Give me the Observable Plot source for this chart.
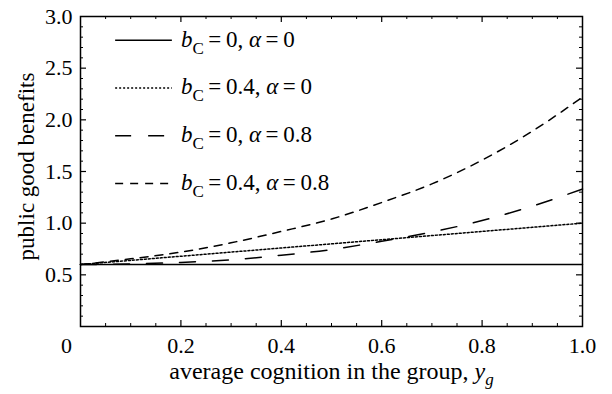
<!DOCTYPE html>
<html>
<head>
<meta charset="utf-8">
<script src="https://cdn.jsdelivr.net/npm/d3@7"></script>
<script src="https://cdn.jsdelivr.net/npm/@observablehq/plot@0.6"></script>
<style>
  html, body { margin: 0; padding: 0; background: white; }
</style>
</head>
<body>
<div id="chart"></div>
<script>
// ---- data ----
const xValues      = [0, 0.1, 0.2, 0.3, 0.4, 0.5, 0.6, 0.7, 0.8, 0.9, 1.0];
const seriesSolid  = [0.6, 0.6, 0.6, 0.6, 0.6, 0.6, 0.6, 0.6, 0.6, 0.6, 0.6];          // bC=0,   α=0
const seriesDotted = [0.6, 0.64, 0.68, 0.72, 0.76, 0.80, 0.84, 0.88, 0.92, 0.96, 1.0];  // bC=0.4, α=0
const seriesLong   = [0.6, 0.605, 0.62, 0.645, 0.69, 0.745, 0.825, 0.915, 1.025, 1.165, 1.33]; // bC=0, α=0.8
const seriesShort  = [0.6, 0.655, 0.72, 0.81, 0.92, 1.04, 1.20, 1.38, 1.61, 1.89, 2.22];     // bC=0.4, α=0.8

const legendBC    = [0, 0.4, 0, 0.4];
const legendAlpha = [0, 0, 0.8, 0.8];

const xTickLabels = [0.2, 0.4, 0.6, 0.8, 1.0];
const xZeroLabel  = [0];
const yTickLabels = [0.5, 1.0, 1.5, 2.0, 2.5, 3.0];
const xMajorTicks = [0.2, 0.4, 0.6, 0.8];
const xMinorTicks = d3.range(1, 20).map(i => i * 0.05).filter(v => Math.abs(v * 5 - Math.round(v * 5)) > 1e-6);
const yMajorTicks = [0.5, 1.0, 1.5, 2.0, 2.5];
const yMinorTicks = d3.range(1, 30).map(i => i / 10).filter(v => Math.abs(v * 2 - Math.round(v * 2)) > 1e-6);

const xLabel = "average cognition in the group, y_g";
const yLabel = "public good benefits";

// ---- layout ----
const W = 612, H = 394;
const mL = 80, mR = 30, mT = 16, mB = 68;
const FW = W - mL - mR, FH = H - mT - mB;
const FONT = "Liberation Serif";

const styles = [
  {data: seriesSolid,  dash: null},
  {data: seriesDotted, dash: "2,2"},
  {data: seriesLong,   dash: "16,17"},
  {data: seriesShort,  dash: "8,7"}
];
const lineMarks = styles.map(s => Plot.line(xValues.map((x, i) => ({x, y: s.data[i]})), {
  x: "x", y: "y", stroke: "black", strokeWidth: 1.5, curve: "monotone-x",
  strokeDasharray: s.dash
}));

// legend (positioned inside the frame, top-left)
const legendRows = legendBC.map((b, i) => ({b, a: legendAlpha[i], y: 2.77 - 0.462 * i}));
const legendLines = legendRows.map((r, i) => Plot.ruleY([r], {
  y: "y", x1: () => 0.07, x2: () => 0.183, stroke: "black", strokeWidth: 1.5,
  strokeDasharray: styles[i].dash
}));
const legendText = Plot.text(legendRows, {
  x: () => 0.2, y: "y", text: r => `b_C=${r.b}, α=${r.a}`,
  textAnchor: "start", fontSize: 23, dy: -1
});

const tickLen = 6, minorLen = 3;

const svg = Plot.plot({
  width: W, height: H,
  marginLeft: mL, marginRight: mR, marginTop: mT, marginBottom: mB,
  style: {fontFamily: FONT, fontSize: "22px", background: "white", color: "black"},
  x: {domain: [0, 1]},
  y: {domain: [0, 3]},
  marks: [
    // tick labels
    Plot.axisX(xTickLabels, {tickSize: 0, tickPadding: 11, fontSize: 22, label: null, tickFormat: d3.format(".1f")}),
    Plot.axisX(xZeroLabel, {tickSize: 0, tickPadding: 11, fontSize: 22, label: null, tickFormat: d => "0", dx: -14}),
    Plot.axisY(yTickLabels, {tickSize: 0, tickPadding: 8, fontSize: 22, label: null, tickFormat: d3.format(".1f")}),
    // inward ticks on all four sides
    Plot.tickX(xMajorTicks, {x: d => d, insetTop: FH - tickLen, strokeWidth: 1.2}),
    Plot.tickX(xMinorTicks, {x: d => d, insetTop: FH - minorLen, strokeWidth: 1}),
    Plot.tickX(xMajorTicks, {x: d => d, insetBottom: FH - tickLen, strokeWidth: 1.2}),
    Plot.tickX(xMinorTicks, {x: d => d, insetBottom: FH - minorLen, strokeWidth: 1}),
    Plot.tickY(yMajorTicks, {y: d => d, insetRight: FW - tickLen, strokeWidth: 1.2}),
    Plot.tickY(yMinorTicks, {y: d => d, insetRight: FW - minorLen, strokeWidth: 1}),
    Plot.tickY(yMajorTicks, {y: d => d, insetLeft: FW - tickLen, strokeWidth: 1.2}),
    Plot.tickY(yMinorTicks, {y: d => d, insetLeft: FW - minorLen, strokeWidth: 1}),
    // data
    ...lineMarks,
    // legend
    ...legendLines,
    legendText,
    // axis titles
    Plot.text([xLabel], {frameAnchor: "bottom", lineAnchor: "bottom", textAnchor: "middle", dy: 52, fontSize: 24}),
    Plot.text([yLabel], {frameAnchor: "left", rotate: -90, textAnchor: "middle", lineAnchor: "middle", dx: -54, dy: -5, fontSize: 23}),
    Plot.frame({stroke: "black", strokeWidth: 1.5})
  ]
});

// ---- rich text (italic symbols, subscripts) ----
const NS = "http://www.w3.org/2000/svg";
function rich(el, parts, subSize, subShift) {
  while (el.firstChild) el.removeChild(el.firstChild);
  let shift = 0;
  for (const p of parts) {
    const t = document.createElementNS(NS, "tspan");
    t.textContent = p.t;
    if (p.i) t.setAttribute("font-style", "italic");
    const target = p.sub ? subShift : 0;
    if (target !== shift) { t.setAttribute("dy", target - shift); shift = target; }
    if (p.sub) t.setAttribute("font-size", subSize);
    el.appendChild(t);
  }
}
const thin = "\u2009";
let legendIndex = 0;
d3.select(svg).selectAll("text").each(function() {
  const s = this.textContent;
  if (s.startsWith("b_C=")) {
    const r = legendRows[legendIndex++];
    rich(this, [
      {t: "b", i: 1}, {t: "C", sub: 1},
      {t: thin + "=" + thin + r.b + ", "},
      {t: "α", i: 1},
      {t: thin + "=" + thin + r.a}
    ], 17, 7);
  } else if (s === xLabel) {
    const [main, sub] = xLabel.split("_");
    rich(this, [
      {t: main.slice(0, -1)}, {t: main.slice(-1), i: 1}, {t: sub, i: 1, sub: 1}
    ], 17, 6);
  }
});

document.getElementById("chart").appendChild(svg);
</script>
</body>
</html>
